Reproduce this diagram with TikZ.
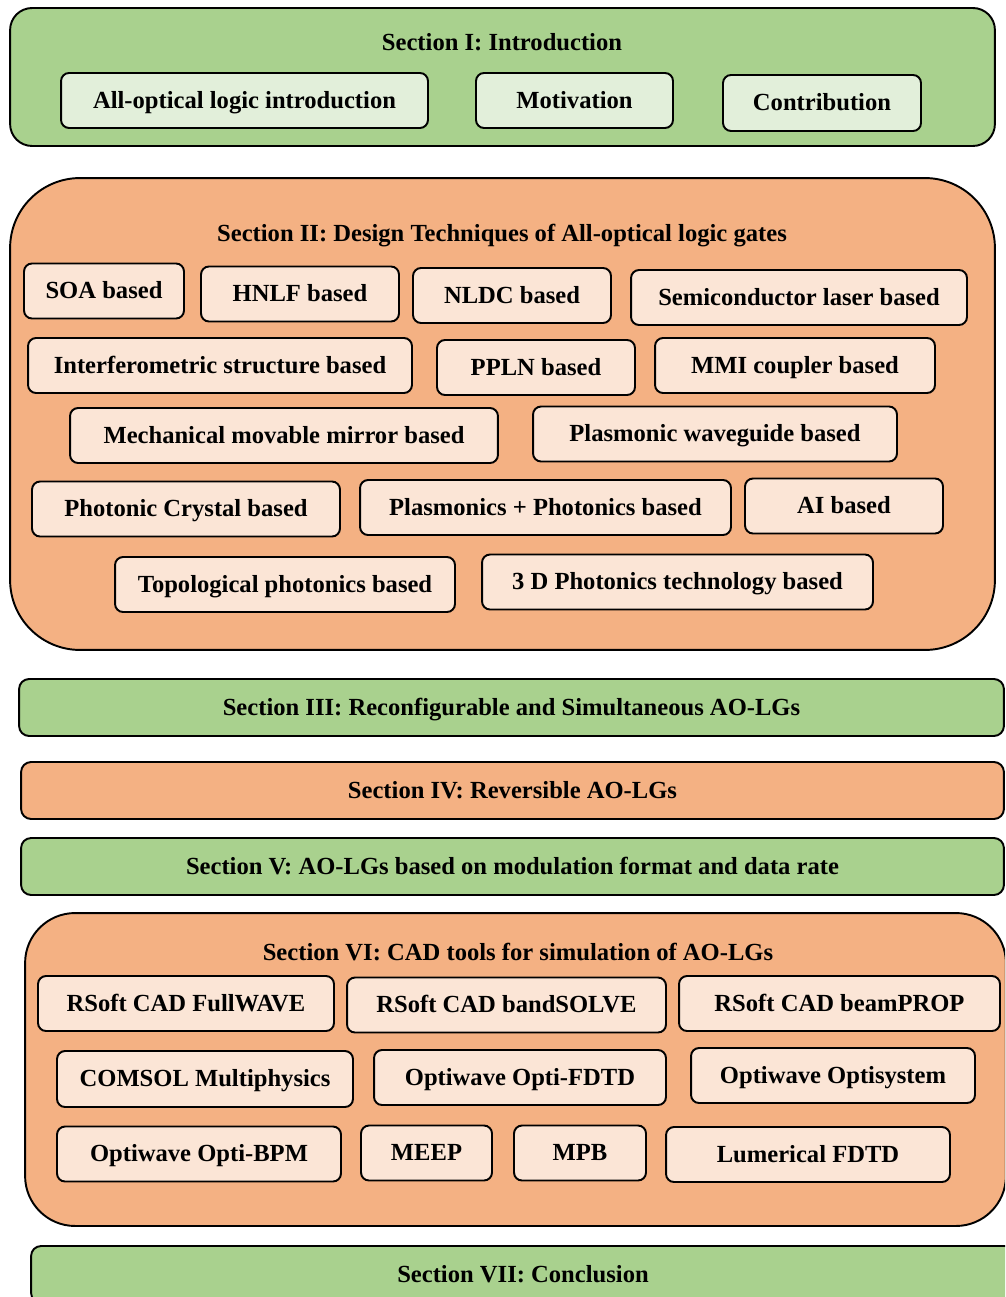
\documentclass[tikz,border=0pt]{standalone}
\usepackage{fontspec}
\setmainfont{Liberation Serif}
\usepackage{xcolor}
\usepackage{tikz}
\usetikzlibrary{positioning}

\definecolor{greensec}{HTML}{A9D18E}
\definecolor{greenitem}{HTML}{E2EFDA}
\definecolor{orangesec}{HTML}{F4B183}
\definecolor{orangeitem}{HTML}{FBE5D6}

\tikzset{
  secbox/.style={draw, line width=1.1pt, inner sep=0pt, text height=10pt, text depth=1pt,
    font=\bfseries\fontsize{14}{16}\selectfont},
  greensecbox/.style={secbox, fill=greensec},
  orangesecbox/.style={secbox, fill=orangesec},
  itembox/.style={draw, line width=1.1pt, rounded corners=0.16cm, inner sep=0pt, minimum height=1.1cm,
    text height=10pt, text depth=1pt, font=\bfseries\fontsize{14}{16}\selectfont},
  greenitembox/.style={itembox, fill=greenitem},
  orangeitembox/.style={itembox, fill=orangeitem},
  sectitle/.style={inner sep=0pt, text height=10pt, text depth=1pt, font=\bfseries\fontsize{14}{16}\selectfont}
}

\begin{document}
\begin{tikzpicture}[x=0.02cm, y=-0.02cm]
    \useasboundingbox (0,0) rectangle (1005,1297);
    \clip (0,0) rectangle (1005,1297);

    % Section I
    \node [greensecbox, rounded corners=0.44cm, minimum width=19.7cm, minimum height=2.76cm] (sec1) at (502.5,77) {};
    \node [sectitle] (sec1t) at (502,43) {Section I: Introduction};
    \node [greenitembox, minimum width=7.34cm] (aoli) at (244.5,100.5) {All-optical logic introduction};
    \node [greenitembox, minimum width=3.94cm] (motiv) at (574.5,100.5) {Motivation};
    \node [greenitembox, minimum width=3.96cm, minimum height=1.12cm] (contrib) at (822,103) {Contribution};

    % Section II
    \node [orangesecbox, rounded corners=1.4cm, minimum width=19.7cm, minimum height=9.44cm] (sec2) at (502.5,414) {};
    \node [sectitle] (sec2t) at (502,234) {Section II: Design Techniques of All-optical logic gates};
    \node [orangeitembox, minimum width=3.2cm] (soa) at (104,291) {SOA based};
    \node [orangeitembox, minimum width=3.96cm] (hnlf) at (300,294) {HNLF based};
    \node [orangeitembox, minimum width=3.96cm] (nldc) at (512,295.5) {NLDC based};
    \node [orangeitembox, minimum width=6.72cm] (semi) at (799,297.5) {Semiconductor laser based};
    \node [orangeitembox, minimum width=7.68cm] (interf) at (220,365.5) {Interferometric structure based};
    \node [orangeitembox, minimum width=3.96cm] (ppln) at (536,367.5) {PPLN based};
    \node [orangeitembox, minimum width=5.6cm] (mmi) at (795,365.5) {MMI coupler based};
    \node [orangeitembox, minimum width=8.56cm] (mech) at (284,435.5) {Mechanical movable mirror based};
    \node [orangeitembox, minimum width=7.28cm] (plwg) at (715,434) {Plasmonic waveguide based};
    \node [orangeitembox, minimum width=6.16cm] (phc) at (186,509) {Photonic Crystal based};
    \node [orangeitembox, minimum width=7.42cm] (plph) at (545.5,507.5) {Plasmonics + Photonics based};
    \node [orangeitembox, minimum width=3.96cm] (ai) at (844,506) {AI based};
    \node [orangeitembox, minimum width=6.8cm] (topo) at (285,584.5) {Topological photonics based};
    \node [orangeitembox, minimum width=7.82cm] (threed) at (677.5,582) {3 D Photonics technology based};

    % Sections III to V
    \node [greensecbox, rounded corners=0.2cm, minimum width=19.7cm, minimum height=1.14cm] (sec3) at (511.5,707.5) {Section III: Reconfigurable and Simultaneous AO-LGs};
    \node [orangesecbox, rounded corners=0.2cm, minimum width=19.66cm, minimum height=1.14cm] (sec4) at (512.5,790.5) {Section IV: Reversible AO-LGs};
    \node [greensecbox, rounded corners=0.2cm, minimum width=19.66cm, minimum height=1.14cm] (sec5) at (512.5,866.5) {Section V: AO-LGs based on modulation format and data rate};

    % Section VI
    \node [orangesecbox, rounded corners=1.0cm, minimum width=19.62cm, minimum height=6.26cm] (sec6) at (515.5,1069.5) {};
    \node [sectitle] (sec6t) at (518,953) {Section VI: CAD tools for simulation of AO-LGs};
    \node [orangeitembox, minimum width=5.92cm] (fullwave) at (186,1003.5) {RSoft CAD FullWAVE};
    \node [orangeitembox, minimum width=6.38cm] (bandsolve) at (506.5,1005) {RSoft CAD bandSOLVE};
    \node [orangeitembox, minimum width=6.42cm] (beamprop) at (839.5,1003.5) {RSoft CAD beamPROP};
    \node [orangeitembox, minimum width=5.92cm, minimum height=1.12cm] (comsol) at (205,1079) {COMSOL Multiphysics};
    \node [orangeitembox, minimum width=5.84cm] (optifdtd) at (520,1077.5) {Optiwave Opti-FDTD};
    \node [orangeitembox, minimum width=5.68cm] (optisys) at (833,1075.5) {Optiwave Optisystem};
    \node [orangeitembox, minimum width=5.68cm] (optibpm) at (199,1154) {Optiwave Opti-BPM};
    \node [orangeitembox, minimum width=2.62cm] (meep) at (426.5,1153) {MEEP};
    \node [orangeitembox, minimum width=2.64cm] (mpb) at (580,1153) {MPB};
    \node [orangeitembox, minimum width=5.68cm] (lumer) at (808,1154.5) {Lumerical FDTD};

    % Section VII
    \node [greensecbox, rounded corners=0.2cm, minimum width=19.68cm, minimum height=1.14cm] (sec7) at (523,1274.5) {Section VII: Conclusion};
\end{tikzpicture}
\end{document}
